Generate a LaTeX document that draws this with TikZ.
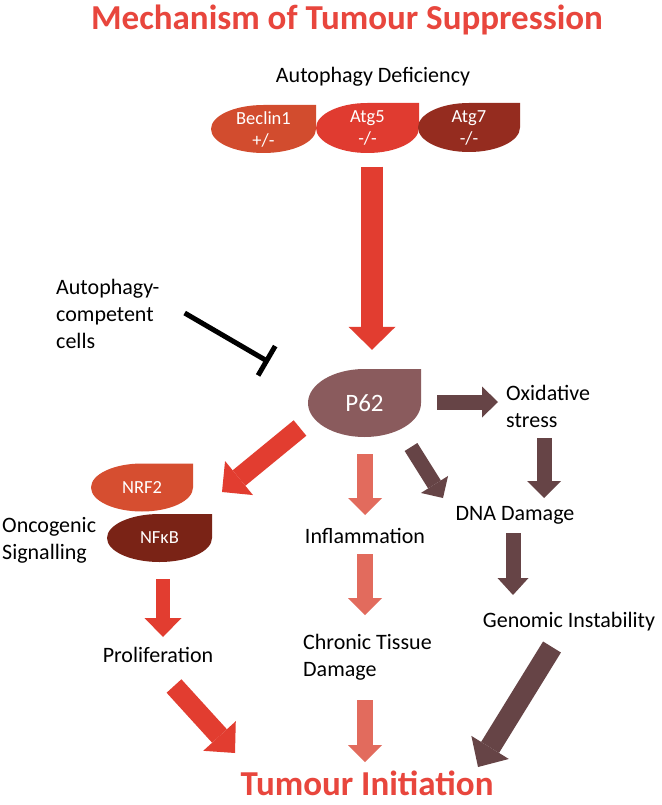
\documentclass[tikz,border=0pt]{standalone}
\usepackage{fontspec}
\setmainfont{Carlito}
\usetikzlibrary{arrows.meta,calc}
\definecolor{titlered}{HTML}{E8463D}
\definecolor{redA}{HTML}{E23D30}
\definecolor{salmonA}{HTML}{E26B5D}
\definecolor{brownA}{HTML}{664446}
\definecolor{beclinC}{HTML}{D24C2E}
\definecolor{atgfiveC}{HTML}{E03B30}
\definecolor{atgsevenC}{HTML}{952C1F}
\definecolor{nrfC}{HTML}{D64E30}
\definecolor{nfkbC}{HTML}{7A2316}
\definecolor{ppC}{HTML}{8A5B5D}
\begin{document}
\begin{tikzpicture}[x=1pt,y=-1pt,
  body/.style={font=\fontsize{22}{27}\selectfont, inner sep=0pt, text=black},
  headline/.style={font=\fontsize{35}{40}\selectfont\bfseries, inner sep=0pt, text=titlered},
  leaf/.style n args={3}{minimum width=#1pt, minimum height=#2pt, inner sep=0pt,
    text=white, align=center, font=\fontsize{18.5}{22}\selectfont,
    path picture={\fill[#3] (path picture bounding box.north) -- (path picture bounding box.north east)
      -- (path picture bounding box.east) arc[start angle=0, end angle=-270, x radius={#1pt/2}, y radius={#2pt/2}] -- cycle;}},
  fat/.style n args={4}{draw=#4, line width=#1pt, line cap=butt,
    -{Triangle[width=#2pt, length=#3pt, line width=0pt]}},
]
\fill[white] (0,0) rectangle (661,805);
\useasboundingbox (0,0) rectangle (661,805);

% titles
\node[headline] (title) at (347,20) {Mechanism of Tumour Suppression};
\node[headline] (tumour) at (367,783) {Tumour Initiation};

% top
\node[body] (deficiency) at (373,77) {Autophagy Deficiency};
\node[leaf={105}{48}{beclinC}] (beclin) at (263.5,129) {Beclin1\\+/-};
\node[leaf={103}{50}{atgfiveC}] (atg5) at (367.5,128) {Atg5\\-/-};
\node[leaf={102}{49}{atgsevenC}] (atg7) at (469,127.5) {Atg7\\-/-};

% P62
\node[leaf={113}{68}{ppC}, font=\fontsize{25}{29}\selectfont] (p62) at (364.5,403) {P62};

% left
\node[body, anchor=west, align=left] (competent) at (56,314) {Autophagy-\\competent\\cells};
\node[leaf={102}{48}{nrfC}] (nrf2) at (142,487.5) {NRF2};
\node[leaf={105}{48}{nfkbC}] (nfkb) at (159.5,538) {NFκB};
\node[body, anchor=west, align=left] (oncogenic) at (2,540) {Oncogenic\\Signalling};
\node[body] (prolif) at (158,655) {Proliferation};

% middle
\node[body] (inflam) at (365,536) {Inflammation};
\node[body, anchor=west, align=left] (chronic) at (303,657) {Chronic Tissue\\Damage};

% right
\node[body, anchor=west, align=left] (oxid) at (506,406.5) {Oxidative\\stress};
\node[body] (dna) at (515,515) {DNA Damage};
\node[body] (genomic) at (569,622) {Genomic Instability};

% connectors
\draw[fat={22}{47}{23}{redA}] ($(atg5.south)+(4.5,13.5)$) -- ($(p62.north)+(7.5,-19)$);
\draw[line width=5pt, -{Bar[width=34pt]}] ($(competent.east)+(25,-1)$) -- ($(p62.west)+(-39,-41)$);

\draw[fat={15}{31}{16}{brownA}] ($(p62.east)+(16,-1)$) -- ($(oxid.west)+(-8,-4.5)$);
\draw[fat={15}{34}{17}{brownA}] ($(oxid.west)+(38,31.5)$) -- ($(dna.center)+(29,-17)$);
\draw[fat={15}{32}{16}{brownA}] ($(p62.center)+(46.5,44)$) -- ($(dna.center)+(-72,-17)$);
\draw[fat={15}{31}{17}{brownA}] ($(dna.center)+(-2,18)$) -- ($(genomic.center)+(-56,-27)$);
\draw[fat={21}{44}{23}{brownA}] ($(genomic.center)+(-17,25)$) -- ($(tumour.center)+(111,-16)$);

\draw[fat={20}{44}{22}{redA}] ($(p62.center)+(-64.5,25)$) -- ($(nrf2.center)+(80,4.5)$);
\draw[fat={14}{37}{19}{redA}] ($(nfkb.center)+(3.5,41)$) -- ($(prolif.center)+(5,-18)$);
\draw[fat={20}{44}{23}{redA}] ($(prolif.center)+(16,31)$) -- ($(tumour.center)+(-132,-30)$);

\draw[fat={16}{34}{17}{salmonA}] ($(p62.center)+(0.5,51)$) -- ($(inflam.center)+(0,-21)$);
\draw[fat={16}{34}{17}{salmonA}] ($(inflam.center)+(0,18)$) -- ($(chronic.west)+(62,-42)$);
\draw[fat={16}{34}{17}{salmonA}] ($(chronic.west)+(62,43)$) -- ($(tumour.center)+(-2,-21)$);
\end{tikzpicture}
\end{document}
